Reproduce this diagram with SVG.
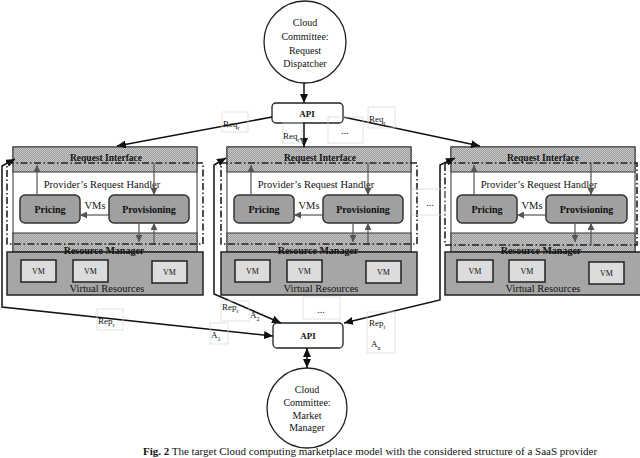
<svg xmlns="http://www.w3.org/2000/svg" width="640" height="458" viewBox="0 0 640 458">
<style>
text{font-family:"Liberation Serif","Times New Roman",serif;fill:#111}
.b{font-weight:bold}
.frame{fill:#fff;stroke:#333;stroke-width:1}
.band{fill:url(#hatch);stroke:#333;stroke-width:1}
.vr{fill:#a6a6a6;stroke:#222;stroke-width:1.5}
.vm{fill:#dcdcdc;stroke:#222;stroke-width:1.5}
.mod{fill:#a0a0a0;stroke:#333;stroke-width:1.5}
.dd{fill:none;stroke:#222;stroke-width:1.6;stroke-dasharray:7 2.5 1.5 2.5}
.ia{fill:none;stroke:#555;stroke-width:1.2;marker-end:url(#ga)}
.c{fill:none;stroke:#111;stroke-width:1.5}
.ae{marker-end:url(#ba)}
.as{marker-start:url(#ba)}
.lb{fill:none;stroke:#d6d6d6;stroke-width:0.7}
.node{fill:#fff;stroke:#222;stroke-width:1.3}
</style>
<defs>
<pattern id="hatch" width="2" height="2" patternUnits="userSpaceOnUse">
<rect width="2" height="2" fill="#c8c8c8"/>
<rect width="1" height="1" fill="#9c9c9c"/>
<rect x="1" y="1" width="1" height="1" fill="#9c9c9c"/>
</pattern>
<marker id="ba" markerUnits="userSpaceOnUse" markerWidth="10" markerHeight="8" refX="9" refY="4" orient="auto-start-reverse">
<path d="M0,0 L9,4 L0,8 Z" fill="#111"/>
</marker>
<marker id="ga" markerUnits="userSpaceOnUse" markerWidth="8" markerHeight="7" refX="7" refY="3.5" orient="auto">
<path d="M0,0 L7,3.5 L0,7 Z" fill="#555"/>
</marker>
</defs>
<rect width="640" height="458" fill="#fff"/>

<g id="dispatcher">
<circle class="node" cx="305" cy="42" r="41"/>
<text x="305" y="26" font-size="10" text-anchor="middle">Cloud</text>
<text x="305" y="40" font-size="10" text-anchor="middle">Committee:</text>
<text x="305" y="54" font-size="10" text-anchor="middle">Request</text>
<text x="305" y="67" font-size="10" text-anchor="middle">Dispatcher</text>
</g>

<g id="api-top">
<rect class="node" x="272" y="103" width="71" height="20" rx="4"/>
<text class="b" x="307" y="117" font-size="9" text-anchor="middle">API</text>
</g>

<g id="api-bottom">
<rect class="node" x="273" y="323" width="70" height="25" rx="4"/>
<text class="b" x="308" y="339" font-size="9" text-anchor="middle">API</text>
</g>

<g id="market-manager">
<circle class="node" cx="307" cy="408" r="40"/>
<text x="307" y="393" font-size="10" text-anchor="middle">Cloud</text>
<text x="307" y="406" font-size="10" text-anchor="middle">Committee:</text>
<text x="307" y="419" font-size="10" text-anchor="middle">Market</text>
<text x="307" y="431" font-size="10" text-anchor="middle">Manager</text>
</g>

<g id="provider-1" transform="translate(13,0)">
<rect class="frame" x="0" y="147" width="184" height="105"/>
<rect class="band" x="0" y="147" width="184" height="25"/>
<rect class="band" x="0" y="233" width="184" height="19"/>
<rect class="vr" x="-6" y="252" width="196" height="43"/>
<rect class="vm" x="8" y="260" width="35" height="22"/>
<rect class="vm" x="60" y="260" width="35" height="22"/>
<rect class="vm" x="139" y="261" width="35" height="22"/>
<text x="25.5" y="274" font-size="8" text-anchor="middle">VM</text>
<text x="77.5" y="274" font-size="8" text-anchor="middle">VM</text>
<text x="156.5" y="275" font-size="8" text-anchor="middle">VM</text>
<text x="94" y="292" font-size="10.5" text-anchor="middle">Virtual Resources</text>
<rect class="mod" x="7" y="195" width="60" height="28" rx="5"/>
<rect class="mod" x="96" y="195" width="80" height="28" rx="5"/>
<text class="b" x="37" y="213" font-size="10" text-anchor="middle">Pricing</text>
<text class="b" x="136" y="213" font-size="10" text-anchor="middle">Provisioning</text>
<text x="82" y="209" font-size="10.5" text-anchor="middle">VMs</text>
<text class="b" x="93" y="161" font-size="9.5" text-anchor="middle">Request Interface</text>
<text x="89" y="188" font-size="10.5" text-anchor="middle">Provider’s Request Handler</text>
<text class="b" x="91" y="254" font-size="10" text-anchor="middle">Resource Manager</text>
<path class="ia" d="M24,195 V165"/>
<path class="ia" d="M141,163 V195"/>
<path class="ia" d="M126,223 V242"/>
<path class="ia" d="M141,245 V223"/>
<path class="ia" d="M96,215 H67"/>
<rect class="dd" x="-6" y="163" width="196" height="81"/>
</g>

<g id="provider-2" transform="translate(227,0)">
<rect class="frame" x="0" y="147" width="184" height="105"/>
<rect class="band" x="0" y="147" width="184" height="25"/>
<rect class="band" x="0" y="233" width="184" height="19"/>
<rect class="vr" x="-6" y="252" width="196" height="43"/>
<rect class="vm" x="8" y="260" width="35" height="22"/>
<rect class="vm" x="60" y="260" width="35" height="22"/>
<rect class="vm" x="139" y="261" width="35" height="22"/>
<text x="25.5" y="274" font-size="8" text-anchor="middle">VM</text>
<text x="77.5" y="274" font-size="8" text-anchor="middle">VM</text>
<text x="156.5" y="275" font-size="8" text-anchor="middle">VM</text>
<text x="94" y="292" font-size="10.5" text-anchor="middle">Virtual Resources</text>
<rect class="mod" x="7" y="195" width="60" height="28" rx="5"/>
<rect class="mod" x="96" y="195" width="80" height="28" rx="5"/>
<text class="b" x="37" y="213" font-size="10" text-anchor="middle">Pricing</text>
<text class="b" x="136" y="213" font-size="10" text-anchor="middle">Provisioning</text>
<text x="82" y="209" font-size="10.5" text-anchor="middle">VMs</text>
<text class="b" x="93" y="161" font-size="9.5" text-anchor="middle">Request Interface</text>
<text x="89" y="188" font-size="10.5" text-anchor="middle">Provider’s Request Handler</text>
<text class="b" x="91" y="254" font-size="10" text-anchor="middle">Resource Manager</text>
<path class="ia" d="M24,195 V165"/>
<path class="ia" d="M141,163 V195"/>
<path class="ia" d="M126,223 V242"/>
<path class="ia" d="M141,245 V223"/>
<path class="ia" d="M96,215 H67"/>
<rect class="dd" x="-6" y="163" width="196" height="81"/>
</g>

<g id="provider-3" transform="translate(451,0)">
<rect class="frame" x="0" y="147" width="184" height="105"/>
<rect class="band" x="0" y="147" width="184" height="25"/>
<rect class="band" x="0" y="233" width="184" height="19"/>
<rect class="vr" x="-6" y="252" width="196" height="43"/>
<rect class="vm" x="6" y="260" width="36" height="22"/>
<rect class="vm" x="58" y="260" width="36" height="22"/>
<rect class="vm" x="138" y="262" width="35" height="22"/>
<text x="24" y="274" font-size="8" text-anchor="middle">VM</text>
<text x="76" y="274" font-size="8" text-anchor="middle">VM</text>
<text x="155.5" y="276" font-size="8" text-anchor="middle">VM</text>
<text x="92" y="292" font-size="10.5" text-anchor="middle">Virtual Resources</text>
<rect class="mod" x="6" y="195" width="60" height="28" rx="5"/>
<rect class="mod" x="95" y="195" width="81" height="28" rx="5"/>
<text class="b" x="36" y="213" font-size="10" text-anchor="middle">Pricing</text>
<text class="b" x="135.5" y="213" font-size="10" text-anchor="middle">Provisioning</text>
<text x="81" y="209" font-size="10.5" text-anchor="middle">VMs</text>
<text class="b" x="92" y="161" font-size="9.5" text-anchor="middle">Request Interface</text>
<text x="88" y="188" font-size="10.5" text-anchor="middle">Provider’s Request Handler</text>
<text class="b" x="90" y="254" font-size="10" text-anchor="middle">Resource Manager</text>
<path class="ia" d="M23,195 V165"/>
<path class="ia" d="M140,163 V195"/>
<path class="ia" d="M124,223 V242"/>
<path class="ia" d="M140,245 V223"/>
<path class="ia" d="M95,215 H66"/>
<rect class="dd" x="-6" y="163" width="192" height="82"/>
</g>

<g id="connectors">
<path class="c ae" d="M304,83 V103"/>
<path class="c ae" d="M272,117 L117,146"/>
<path class="c ae" d="M304,123 V147"/>
<path class="c ae" d="M343,117 L480,146"/>
<path class="c as ae" d="M307,348 V368"/>
<path class="c as ae" d="M15,159 L2,166 L2,307 L273,336"/>
<path class="c as ae" d="M226,158 L214,165 L214,294 L281,323"/>
<path class="c as ae" d="M455,158 L440,165 L440,300 L344,323"/>
</g>

<g id="labels">
<rect class="lb" x="222" y="112" width="26" height="20"/>
<text x="223" y="127" font-size="9">Req<tspan font-size="6" baseline-shift="sub">r</tspan></text>
<rect class="lb" x="283" y="123" width="19" height="20"/>
<text x="283" y="139" font-size="9">Req<tspan font-size="6" baseline-shift="sub">r</tspan></text>
<rect class="lb" x="328" y="117" width="35" height="26"/>
<text x="345" y="134" font-size="10" text-anchor="middle">...</text>
<rect class="lb" x="368" y="107" width="27" height="21"/>
<text x="369" y="122" font-size="9">Req<tspan font-size="6" baseline-shift="sub">r</tspan></text>
<rect class="lb" x="412" y="189" width="33" height="26"/>
<text x="430" y="206" font-size="10" text-anchor="middle">...</text>
<rect class="lb" x="97" y="309" width="26" height="21"/>
<text x="98" y="324" font-size="9">Rep<tspan font-size="6" baseline-shift="sub">r</tspan></text>
<rect class="lb" x="210" y="323" width="18" height="21"/>
<text x="211" y="338" font-size="9">A<tspan font-size="6" baseline-shift="sub">1</tspan></text>
<rect class="lb" x="221" y="301" width="28" height="20"/>
<text x="222" y="310" font-size="9">Rep<tspan font-size="6" baseline-shift="sub">r</tspan></text>
<text x="250" y="318" font-size="9">A<tspan font-size="6" baseline-shift="sub">2</tspan></text>
<rect class="lb" x="303" y="297" width="37" height="22"/>
<text x="321" y="313" font-size="10" text-anchor="middle">...</text>
<rect class="lb" x="367" y="312" width="28" height="41"/>
<text x="369" y="326" font-size="9">Rep<tspan font-size="6" baseline-shift="sub">r</tspan></text>
<text x="371" y="347" font-size="9">A<tspan font-size="6" baseline-shift="sub">n</tspan></text>
</g>

<text x="370" y="455" font-size="11" text-anchor="middle"><tspan font-weight="bold">Fig. 2</tspan> The target Cloud computing marketplace model with the considered structure of a SaaS provider</text>
</svg>
